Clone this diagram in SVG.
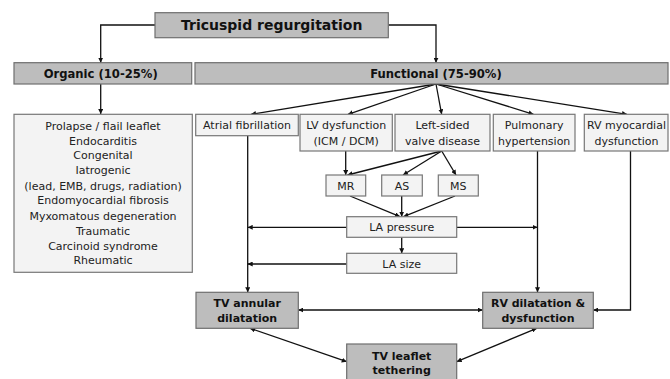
<svg xmlns="http://www.w3.org/2000/svg" width="670" height="379" viewBox="0 0 670 379">
<style>
.g{fill:#bdbdbd;stroke:#6e6e6e;stroke-width:1.2}
.l{fill:#f3f3f3;stroke:#777;stroke-width:1.2}
.t{font-family:"DejaVu Sans",Verdana,sans-serif;font-size:11px;fill:#222;text-anchor:middle;dominant-baseline:central}
.b{font-family:"DejaVu Sans",Verdana,sans-serif;font-size:11px;font-weight:bold;fill:#111;text-anchor:middle;dominant-baseline:central}
.h{font-size:11.6px}
.c{fill:none;stroke:#111;stroke-width:1.3}
</style>
<defs>
<marker id="ah" viewBox="0 0 10 10" refX="10" refY="5" markerWidth="5" markerHeight="5" markerUnits="userSpaceOnUse" orient="auto-start-reverse">
<path d="M0,0 L10,5 L0,10 z" fill="#111"/>
</marker>
</defs>
<rect width="670" height="379" fill="#fff"/>
<g id="connectors">
<path class="c" d="M155,25 H100.7 V62.7" marker-end="url(#ah)"/>
<path class="c" d="M388.3,25 H436 V62.7" marker-end="url(#ah)"/>
<path class="c" d="M100.7,84 V114" marker-end="url(#ah)"/>
<path class="c" d="M436,84 L251,114.3" marker-end="url(#ah)"/>
<path class="c" d="M436,84 L348,114.3" marker-end="url(#ah)"/>
<path class="c" d="M436,84 L441.7,114.3" marker-end="url(#ah)"/>
<path class="c" d="M436,84 L533.5,114.3" marker-end="url(#ah)"/>
<path class="c" d="M436,84 L627,114.3" marker-end="url(#ah)"/>
<path class="c" d="M345.7,151 V175" marker-end="url(#ah)"/>
<path class="c" d="M441.7,151 L347.5,175" marker-end="url(#ah)"/>
<path class="c" d="M441.7,151 L403,175" marker-end="url(#ah)"/>
<path class="c" d="M441.7,151 L456,175" marker-end="url(#ah)"/>
<path class="c" d="M350,196 L400,216.7" marker-end="url(#ah)"/>
<path class="c" d="M401.7,196 V216.7" marker-end="url(#ah)"/>
<path class="c" d="M455,196 L403.5,216.7" marker-end="url(#ah)"/>
<path class="c" d="M401.7,237.3 V253.3" marker-end="url(#ah)"/>
<path class="c" d="M346.7,227.3 H247.7" marker-end="url(#ah)"/>
<path class="c" d="M346.7,264 H247.7" marker-end="url(#ah)"/>
<path class="c" d="M456.7,227.3 H537.5" marker-end="url(#ah)"/>
<path class="c" d="M247.7,135.7 V292.3" marker-end="url(#ah)"/>
<path class="c" d="M537.5,151 V292.3" marker-end="url(#ah)"/>
<path class="c" d="M630.5,151 V310 H593.3" marker-end="url(#ah)"/>
<path class="c" d="M298.3,310 H482.7" marker-start="url(#ah)" marker-end="url(#ah)"/>
<path class="c" d="M250,328.3 L346.7,361.7" marker-start="url(#ah)" marker-end="url(#ah)"/>
<path class="c" d="M536.7,328.3 L456.7,361.7" marker-start="url(#ah)" marker-end="url(#ah)"/>
</g>
<g id="tr"><rect class="g" x="155" y="12.7" width="233.3" height="25"/><text class="b" x="271.7" y="25.2" style="font-size:14px">Tricuspid regurgitation</text></g>
<g id="organic"><rect class="g" x="14" y="62.7" width="177.7" height="21.3"/><text class="b h" x="100.7" y="73.5">Organic (10-25%)</text></g>
<g id="functional"><rect class="g" x="195" y="62.7" width="473" height="21.3"/><text class="b h" x="436" y="73.5">Functional (75-90%)</text></g>
<g id="organic-list"><rect class="l" x="14" y="114.3" width="178.3" height="158"/>
<text class="t" x="103" y="126">Prolapse / flail leaflet</text>
<text class="t" x="103" y="141">Endocarditis</text>
<text class="t" x="103" y="155.7">Congenital</text>
<text class="t" x="103" y="170.7">Iatrogenic</text>
<text class="t" x="103" y="186">(lead, EMB, drugs, radiation)</text>
<text class="t" x="103" y="200.7">Endomyocardial fibrosis</text>
<text class="t" x="103" y="216">Myxomatous degeneration</text>
<text class="t" x="103" y="231">Traumatic</text>
<text class="t" x="103" y="246">Carcinoid syndrome</text>
<text class="t" x="103" y="260.7">Rheumatic</text>
</g>
<g id="af"><rect class="l" x="195.7" y="114.3" width="102.6" height="21.4"/><text class="t" x="247" y="125.7">Atrial fibrillation</text></g>
<g id="lv"><rect class="l" x="300" y="114.3" width="92.3" height="36.7"/><text class="t" x="346.2" y="125.7">LV dysfunction</text><text class="t" x="346.2" y="141">(ICM / DCM)</text></g>
<g id="lsvd"><rect class="l" x="395" y="114.3" width="95" height="36.7"/><text class="t" x="442.5" y="125.7">Left-sided</text><text class="t" x="442.5" y="141">valve disease</text></g>
<g id="ph"><rect class="l" x="493.3" y="114.3" width="81.7" height="36.7"/><text class="t" x="534.2" y="125.7">Pulmonary</text><text class="t" x="534.2" y="141">hypertension</text></g>
<g id="rvm"><rect class="l" x="584.3" y="114.3" width="83.7" height="36.7"/><text class="t" x="626.5" y="125.7">RV myocardial</text><text class="t" x="626.5" y="141">dysfunction</text></g>
<g id="mr"><rect class="l" x="326" y="175" width="39.7" height="21"/><text class="t" x="345.8" y="186.5">MR</text></g>
<g id="as"><rect class="l" x="381.7" y="175" width="40.6" height="21"/><text class="t" x="402" y="186.5">AS</text></g>
<g id="ms"><rect class="l" x="438.3" y="175" width="40" height="21"/><text class="t" x="458.3" y="186.5">MS</text></g>
<g id="lap"><rect class="l" x="346.7" y="216.7" width="110" height="20.6"/><text class="t" x="401.7" y="227.3">LA pressure</text></g>
<g id="las"><rect class="l" x="346.7" y="253.3" width="110" height="20"/><text class="t" x="401.7" y="264">LA size</text></g>
<g id="tva"><rect class="g" x="196" y="292.3" width="102.3" height="36"/><text class="b" x="247.2" y="303.3">TV annular</text><text class="b" x="247.2" y="318.3">dilatation</text></g>
<g id="rvd"><rect class="g" x="482.7" y="292.3" width="110.6" height="36"/><text class="b" x="538" y="303.3">RV dilatation &amp;</text><text class="b" x="538" y="318.3">dysfunction</text></g>
<g id="tvl"><rect class="g" x="346.7" y="344" width="110" height="40"/><text class="b" x="401.7" y="356">TV leaflet</text><text class="b" x="401.7" y="370">tethering</text></g>
</svg>
